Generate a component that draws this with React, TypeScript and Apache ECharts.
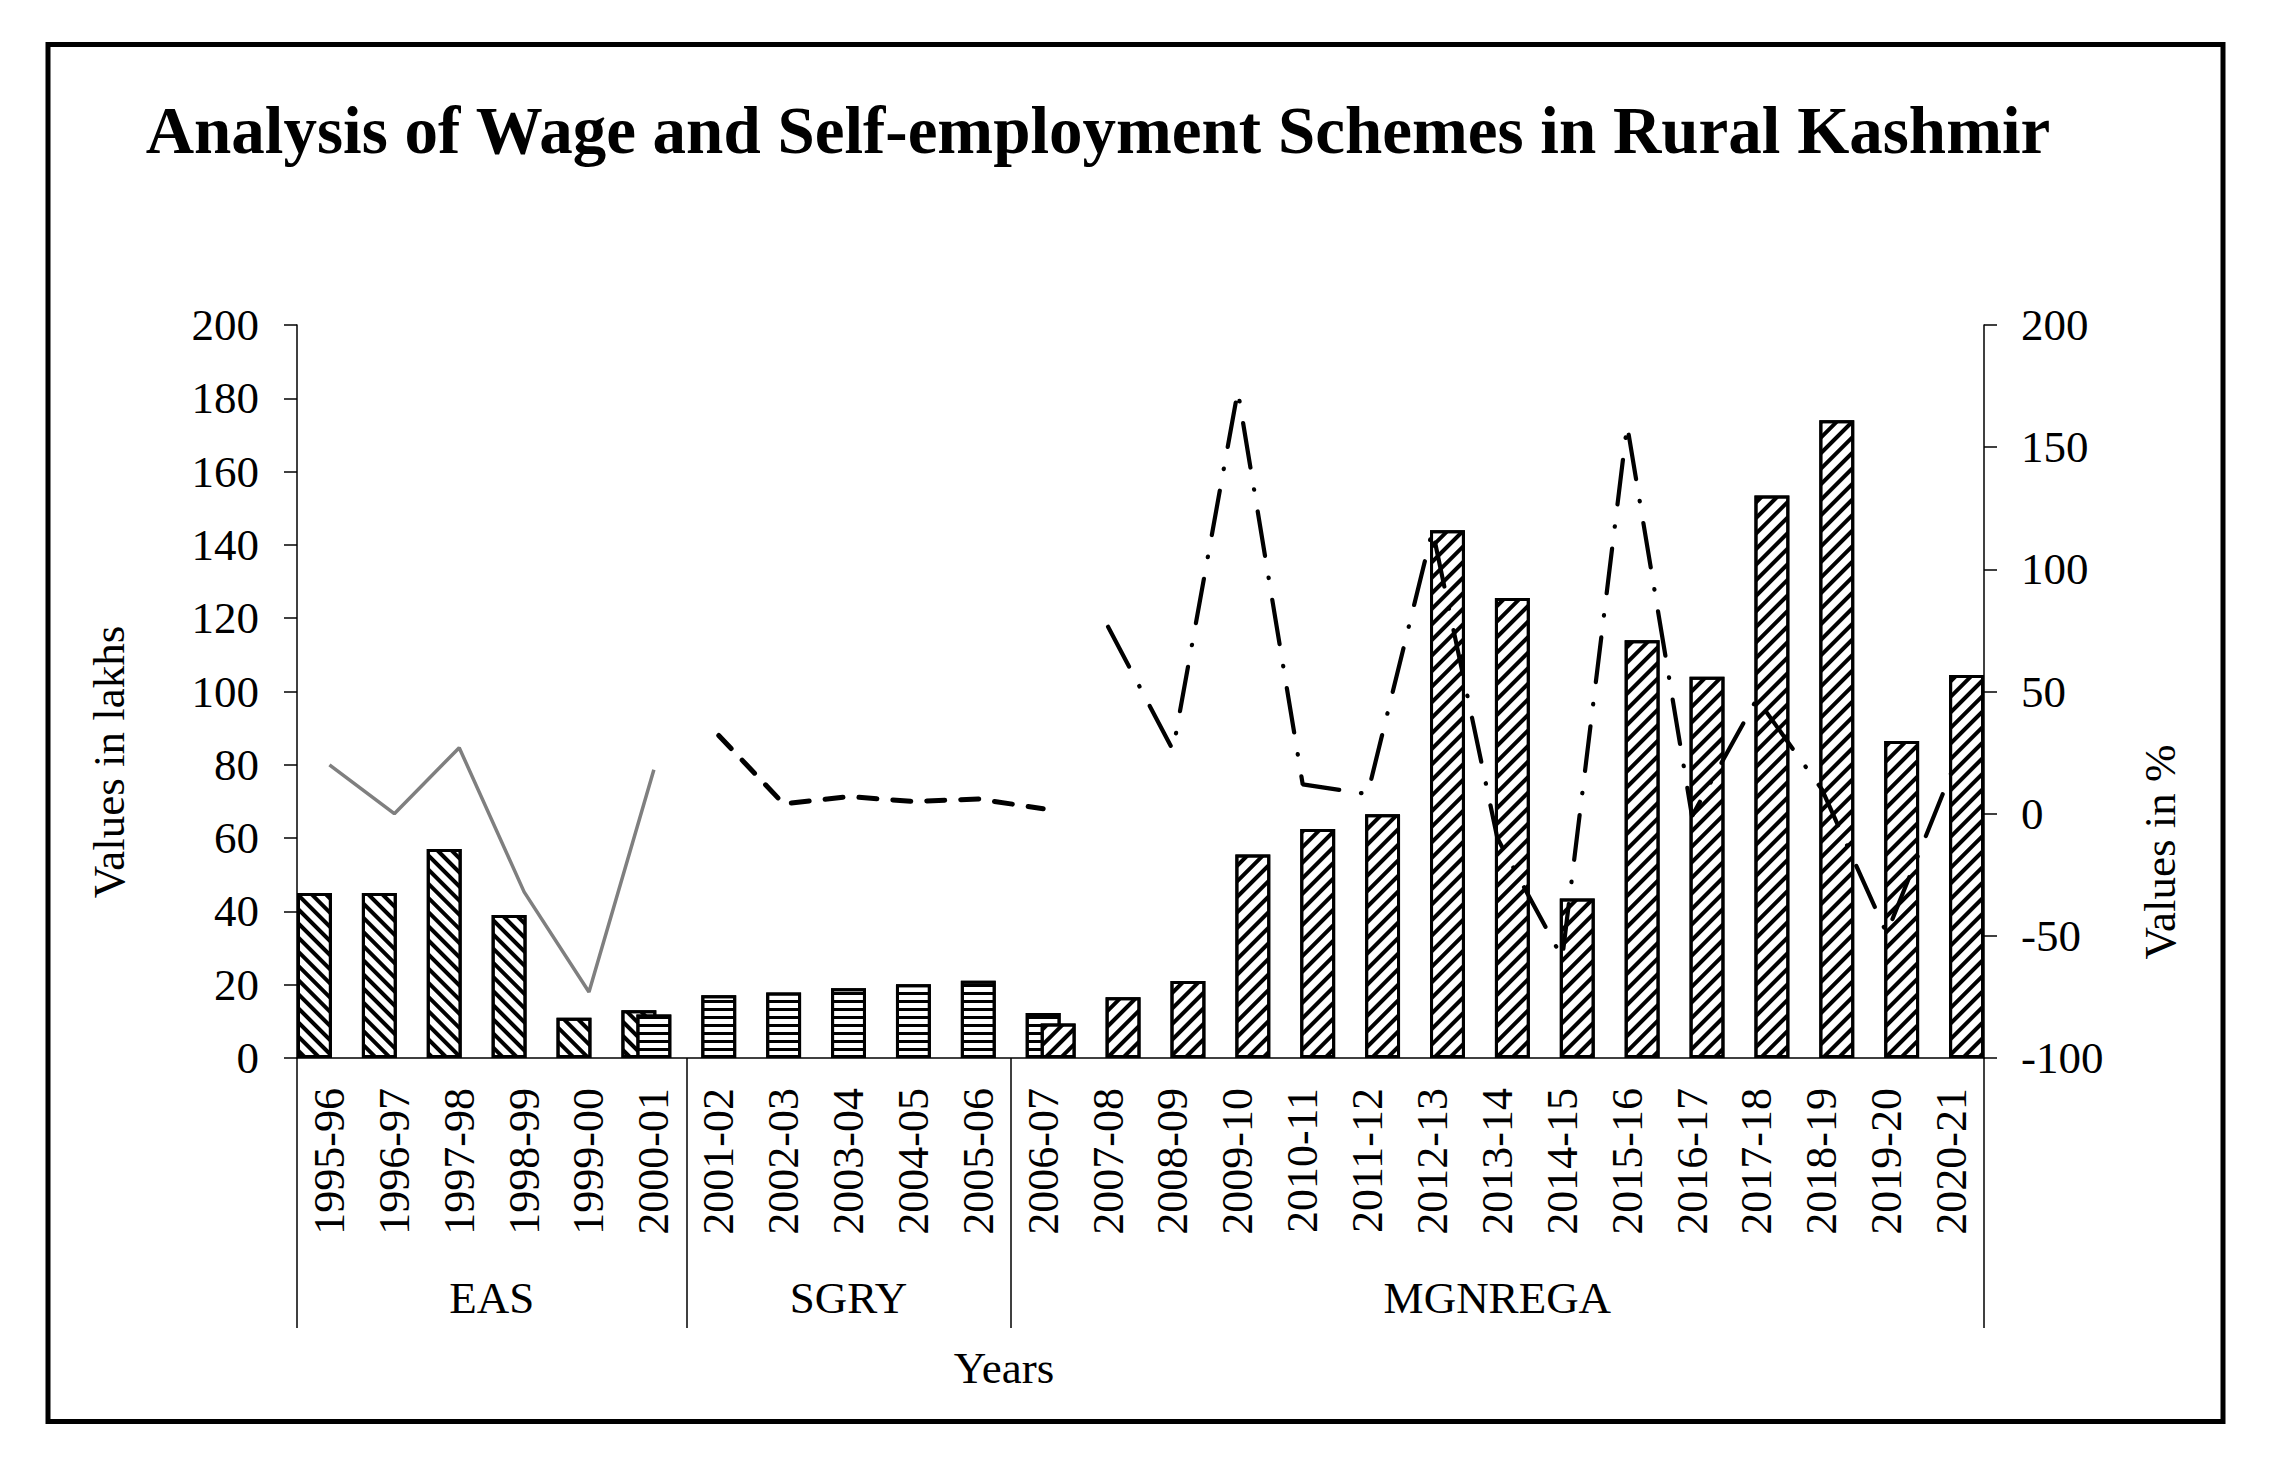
import React, { useEffect, useRef } from 'react';
import * as echarts from 'echarts';

const FONT = 'Liberation Serif';

const categories = [
  '1995-96', '1996-97', '1997-98', '1998-99', '1999-00', '2000-01',
  '2001-02', '2002-03', '2003-04', '2004-05', '2005-06',
  '2006-07', '2007-08', '2008-09', '2009-10', '2010-11', '2011-12', '2012-13',
  '2013-14', '2014-15', '2015-16', '2016-17', '2017-18', '2018-19', '2019-20', '2020-21',
];

const groupNames = ['EAS', 'SGRY', 'MGNREGA'];
const groupStarts = [0, 6, 11];
const groupEnds = [6, 11, 26];

// Bars (Values in lakhs, left axis)
const easBars = [45, 45, 57, 39, 11, 13, null, null, null, null, null, null, null, null, null, null, null, null, null, null, null, null, null, null, null, null];
const sgryBars = [null, null, null, null, null, 11.9, 17.1, 17.9, 19, 20.1, 21.1, 12.3, null, null, null, null, null, null, null, null, null, null, null, null, null, null];
const mgnregaBars = [null, null, null, null, null, null, null, null, null, null, null, 9.4, 16.6, 21, 55.5, 62.5, 66.5, 144, 125.5, 43.5, 114, 104, 153.5, 174, 86.5, 104.5];

// Growth lines (Values in %, right axis)
const easGrowth = [20, 0, 27, -32, -73, 18, null, null, null, null, null, null, null, null, null, null, null, null, null, null, null, null, null, null, null, null];
const sgryGrowth = [null, null, null, null, null, null, 32, 4, 7, 5, 6, 2, null, null, null, null, null, null, null, null, null, null, null, null, null, null];
const mgnregaGrowth = [null, null, null, null, null, null, null, null, null, null, null, null, 76.5, 26, 173, 12, 8, 116, -10, -59, 159, -1, 47, 10, -49, 17];

const hatch = (rotation: number, thick: number, gap: number) => ({
  symbol: 'rect',
  symbolSize: 1,
  dashArrayX: [1, 0],
  dashArrayY: [thick, gap],
  rotation,
  color: '#000',
});

const barCommon = (decal: any) => ({
  type: 'bar',
  xAxisIndex: 0,
  yAxisIndex: 0,
  barGap: '-57%',
  barCategoryGap: '0%',
  itemStyle: { color: '#fff', borderColor: '#000', borderWidth: 3, decal },
});

export default function App() {
  const ref = useRef<HTMLDivElement>(null);
  useEffect(() => {
    if (!ref.current) return;
    const chart = echarts.init(ref.current, undefined, { renderer: 'svg' });
    const axisLineStyle = { color: '#000', width: 1.5 };
    const centers = groupNames.map((_, i) => (groupStarts[i] + groupEnds[i]) / 2);
    const option: any = {
      animation: false,
      backgroundColor: '#fff',
      grid: { left: 297, right: 293, top: 325, bottom: 410 },
      xAxis: [
        {
          type: 'category',
          data: categories,
          boundaryGap: true,
          axisLine: { onZero: false, lineStyle: axisLineStyle },
          axisTick: {
            show: true,
            interval: (i: number) => groupStarts.indexOf(i) >= 0,
            length: 270,
            lineStyle: axisLineStyle,
          },
          axisLabel: { interval: 0, rotate: 90, margin: 30, fontFamily: FONT, fontSize: 44, color: '#000' },
          splitLine: { show: false },
        },
        {
          type: 'value',
          position: 'bottom',
          min: 0,
          max: 26,
          interval: 0.5,
          axisLine: { show: false, onZero: false },
          axisTick: { show: false },
          splitLine: { show: false },
          axisLabel: {
            margin: 217,
            fontFamily: FONT,
            fontSize: 45,
            color: '#000',
            showMinLabel: true,
            showMaxLabel: true,
            formatter: (v: number) => {
              const k = centers.indexOf(v);
              return k >= 0 ? groupNames[k] : '';
            },
          },
        },
      ],
      yAxis: [
        {
          type: 'value',
          position: 'left',
          min: 0,
          max: 200,
          interval: 20,
          axisLine: { show: true, lineStyle: axisLineStyle },
          axisTick: { show: true, length: 13, lineStyle: axisLineStyle },
          axisLabel: { margin: 38, fontFamily: FONT, fontSize: 45, color: '#000' },
          splitLine: { show: false },
        },
        {
          type: 'value',
          position: 'right',
          min: -100,
          max: 200,
          interval: 50,
          axisLine: { show: true, lineStyle: axisLineStyle },
          axisTick: { show: true, length: 13, lineStyle: axisLineStyle },
          axisLabel: { margin: 37, fontFamily: FONT, fontSize: 45, color: '#000' },
          splitLine: { show: false },
        },
      ],
      series: [
        { ...barCommon(hatch(Math.PI / 4, 3.5, 6)), name: 'EAS', data: easBars },
        { ...barCommon(hatch(0, 3, 4.8)), name: 'SGRY', data: sgryBars },
        { ...barCommon(hatch(-Math.PI / 4, 3.8, 6.8)), name: 'MGNREGA', data: mgnregaBars },
        {
          type: 'line', name: 'EAS growth', xAxisIndex: 0, yAxisIndex: 1, data: easGrowth,
          symbol: 'none', showSymbol: false, connectNulls: false,
          lineStyle: { color: '#7f7f7f', width: 3.5 },
        },
        {
          type: 'line', name: 'SGRY growth', xAxisIndex: 0, yAxisIndex: 1, data: sgryGrowth,
          symbol: 'none', showSymbol: false, connectNulls: false,
          lineStyle: { color: '#000', width: 5, type: [18, 16], cap: 'round' },
        },
        {
          type: 'line', name: 'MGNREGA growth', xAxisIndex: 0, yAxisIndex: 1, data: mgnregaGrowth,
          symbol: 'none', showSymbol: false, connectNulls: false,
          lineStyle: { color: '#000', width: 4.2, type: [45, 22, 0.5, 22], cap: 'round' },
        },
      ],
      graphic: [
        {
          type: 'rect', silent: true, z: 100,
          shape: { x: 48, y: 44.5, width: 2175, height: 1377 },
          style: { fill: 'transparent', stroke: '#000', lineWidth: 5 },
        },
        {
          type: 'text', silent: true, x: 1098, y: 130,
          style: {
            text: 'Analysis of Wage and Self-employment Schemes in Rural Kashmir',
            fontFamily: FONT, fontSize: 67, fontWeight: 'bold', fill: '#000',
            align: 'center', verticalAlign: 'middle',
          },
        },
        {
          type: 'text', silent: true, x: 109, y: 762, rotation: Math.PI / 2,
          style: {
            text: 'Values in lakhs', fontFamily: FONT, fontSize: 45, fill: '#000',
            align: 'center', verticalAlign: 'middle',
          },
        },
        {
          type: 'text', silent: true, x: 2160, y: 852, rotation: Math.PI / 2,
          style: {
            text: 'Values in %', fontFamily: FONT, fontSize: 45, fill: '#000',
            align: 'center', verticalAlign: 'middle',
          },
        },
        {
          type: 'text', silent: true, x: 1004, y: 1368,
          style: {
            text: 'Years', fontFamily: FONT, fontSize: 45, fill: '#000',
            align: 'center', verticalAlign: 'middle',
          },
        },
      ],
    };
    chart.setOption(option);
    return () => chart.dispose();
  }, []);
  return (
    <div
      ref={ref}
      style={{ position: 'absolute', left: 0, top: 0, width: 2277, height: 1468, background: '#fff' }}
    />
  );
}
